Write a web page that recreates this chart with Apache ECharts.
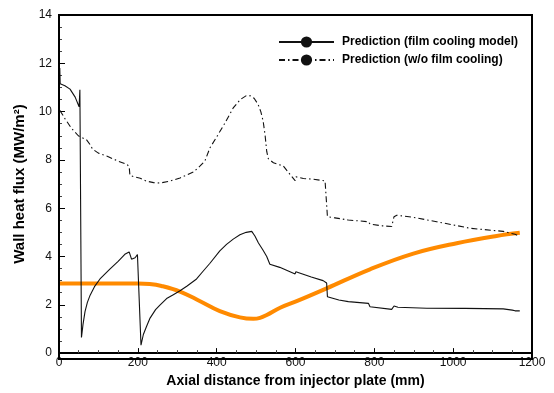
<!DOCTYPE html>
<html>
<head>
<meta charset="utf-8">
<script src="https://cdn.jsdelivr.net/npm/echarts@6/dist/echarts.min.js"></script>
<style>html,body{margin:0;padding:0;background:#fff;}#c{width:554px;height:393px;}</style>
</head>
<body>
<div id="c"></div>
<script>
var seriesNames = ['Prediction (film cooling model)', 'Prediction (w/o film cooling)'];
var xTicks = [0, 200, 400, 600, 800, 1000, 1200];
var yTicks = [0, 2, 4, 6, 8, 10, 12, 14];

var filmCooling = [[2,11.8],[3,11.15],[7,11.12],[15,11.07],[28,10.93],[41,10.6],[51,10.2],[53,10.9],[57,0.65],[61,1.2],[66,1.72],[72,2.1],[79,2.4],[90,2.75],[104,3.07],[129,3.48],[150,3.8],[167,4.09],[178,4.19],[184,3.89],[193,3.95],[199,4.08],[203,4.07],[208,0.33],[214,0.77],[222,1.1],[231,1.45],[245,1.8],[256,1.99],[273,2.26],[290,2.42],[307,2.58],[325,2.78],[349,3.07],[366,3.4],[383,3.72],[408,4.23],[425,4.5],[442,4.72],[459,4.9],[475,5.0],[489,5.04],[497,4.85],[506,4.56],[517,4.28],[527,4.0],[535,3.68],[560,3.55],[599,3.28],[601,3.37],[640,3.15],[670,3.0],[679,2.9],[681,2.33],[686,2.3],[710,2.2],[734,2.13],[785,2.06],[789,1.92],[844,1.81],[850,1.95],[860,1.9],[933,1.86],[1030,1.85],[1127,1.83],[1150,1.78],[1157,1.75],[1169,1.75]];

var noFilm = [[2,10.05],[5,10.0],[10,9.85],[15,9.71],[32,9.3],[49,9.0],[53,8.95],[70,8.83],[79,8.63],[85,8.45],[100,8.28],[121,8.16],[150,7.95],[172,7.82],[178,7.72],[180,7.36],[190,7.3],[206,7.24],[222,7.12],[240,7.06],[256,7.04],[280,7.12],[307,7.25],[341,7.5],[358,7.75],[370,7.95],[383,8.5],[400,8.95],[420,9.5],[442,10.15],[460,10.5],[476,10.67],[486,10.65],[495,10.55],[505,10.3],[512,10.0],[518,9.6],[523,9.0],[527,8.35],[531,8.05],[544,7.88],[569,7.75],[586,7.4],[599,7.14],[601,7.3],[620,7.23],[645,7.2],[675,7.13],[680,7.1],[681,5.65],[700,5.6],[734,5.51],[785,5.44],[789,5.34],[820,5.27],[844,5.24],[850,5.65],[857,5.71],[899,5.62],[958,5.44],[1043,5.17],[1127,5.04],[1157,4.92],[1169,4.83]];

var orangeCurve = [[0,2.88],[100,2.88],[200,2.88],[230,2.86],[260,2.78],[307,2.55],[358,2.15],[408,1.74],[459,1.48],[493,1.42],[510,1.46],[527,1.58],[561,1.88],[603,2.15],[679,2.68],[789,3.47],[899,4.12],[1009,4.55],[1110,4.85],[1169,4.98]];

var FONT = '"Liberation Sans", Arial, sans-serif';
var xMin = xTicks[0], xMax = xTicks[xTicks.length - 1];
var yMin = yTicks[0], yMax = yTicks[yTicks.length - 1];

var chart = echarts.init(document.getElementById('c'), null, {renderer: 'canvas'});
chart.setOption({
  animation: false,
  grid: [
    {left: 59, right: 22, top: 15, bottom: 34},
    {left: 59, right: 22, top: 15, bottom: 34, show: true, borderColor: '#000', borderWidth: 2, z: 10}
  ],
  legend: {
    data: seriesNames,
    orient: 'vertical',
    left: 273, top: 31,
    itemWidth: 55, itemHeight: 14, itemGap: 6,
    textStyle: {fontFamily: FONT, fontSize: 12, fontWeight: 'bold', color: '#000', padding: [0, 0, 0, 3]}
  },
  xAxis: [{
    type: 'value', min: xMin, max: xMax, interval: 200,
    name: 'Axial distance from injector plate (mm)', nameLocation: 'middle', nameGap: 17,
    nameTextStyle: {fontFamily: FONT, fontSize: 14, fontWeight: 'bold', color: '#000'},
    axisLine: {show: true, onZero: false, lineStyle: {color: '#000', width: 2}},
    axisTick: {inside: true, length: 5, lineStyle: {color: '#000'}},
    minorTick: {show: true, splitNumber: 4, length: 3, lineStyle: {color: '#444'}},
    splitLine: {show: false},
    axisLabel: {fontFamily: FONT, fontSize: 12, color: '#111', margin: 4, formatter: function (v) { return String(v); }}
  }, {
    type: 'value', gridIndex: 1, min: xMin, max: xMax, show: false
  }],
  yAxis: [{
    type: 'value', min: yMin, max: yMax, interval: 2,
    name: 'Wall heat flux (MW/m²)', nameLocation: 'middle', nameGap: 30,
    nameTextStyle: {fontFamily: FONT, fontSize: 15, fontWeight: 'bold', color: '#000'},
    axisLine: {show: true, onZero: false, lineStyle: {color: '#000', width: 2}},
    axisTick: {inside: true, length: 6, lineStyle: {color: '#000'}},
    minorTick: {show: true, splitNumber: 4, length: 3, lineStyle: {color: '#444'}},
    splitLine: {show: false},
    axisLabel: {fontFamily: FONT, fontSize: 12, color: '#111', margin: 7}
  }, {
    type: 'value', gridIndex: 1, min: yMin, max: yMax, show: false
  }],
  series: [
    {name: seriesNames[0], type: 'line', data: filmCooling, symbol: 'none', showSymbol: false,
     lineStyle: {color: '#111', width: 1.1}, itemStyle: {color: '#111'}, z: 3},
    {name: seriesNames[1], type: 'line', data: noFilm, symbol: 'none', showSymbol: false,
     lineStyle: {color: '#111', width: 1.1, type: [6, 3, 1.5, 3]}, itemStyle: {color: '#111'}, z: 3},
    {name: 'orange', type: 'line', data: orangeCurve, symbol: 'none', smooth: 0.4,
     lineStyle: {color: '#ff8a00', width: 4}, itemStyle: {color: '#ff8a00'}, z: 2},
    {name: 'frame', type: 'line', xAxisIndex: 1, yAxisIndex: 1,
     data: [[xMin, yMax], [xMax, yMax], [xMax, yMin]], symbol: 'none',
     clip: false, silent: true,
     lineStyle: {color: '#000', width: 2, type: 'solid'}, itemStyle: {color: '#000'}, z: 10}
  ]
});
</script>
</body>
</html>
